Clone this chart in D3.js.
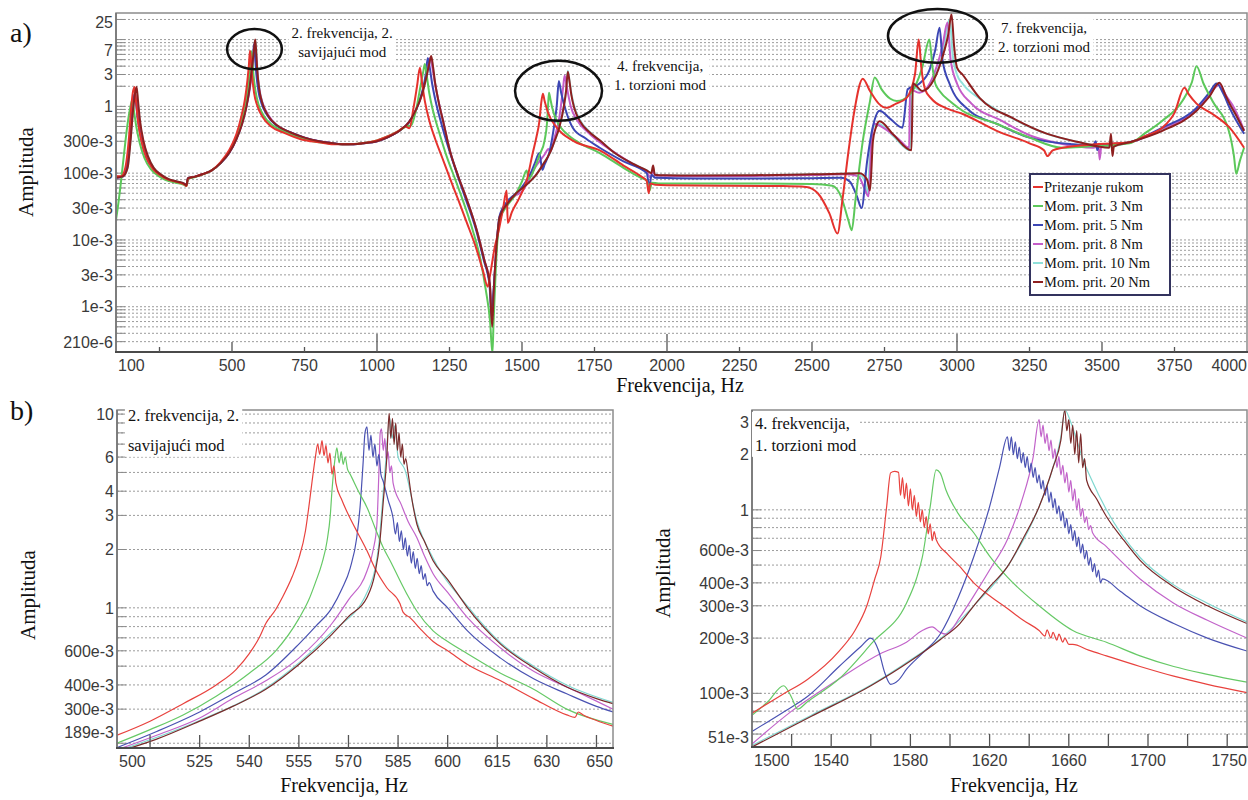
<!DOCTYPE html>
<html><head><meta charset="utf-8">
<script src="https://cdn.jsdelivr.net/npm/d3@7"></script>
<style>body{margin:0;background:#fff}</style>
</head><body>
<svg id="c" width="1248" height="800"></svg>
<script>
// ---- series ----
const seriesNames = ["Pritezanje rukom", "Mom. prit. 3 Nm", "Mom. prit. 5 Nm", "Mom. prit. 8 Nm", "Mom. prit. 10 Nm", "Mom. prit. 20 Nm"];
const seriesColors = ["#e5322d", "#5cc85a", "#3c46b4", "#c45cc8", "#8fe0da", "#8e1f1f"];
const seriesColorsZoom = ["#e8423e", "#66c966", "#4a52b2", "#c264ca", "#80d8d0", "#7a2a2a"];

// ---- a) full spectrum, [Hz, amplitude] ----
const aHand = [[100,0.09],[118,0.09],[132,0.12],[145,0.35],[152,0.9],[158,1.6],[164,1.95],[169,1.2],[176,0.6],[188,0.3],[205,0.17],[228,0.115],[255,0.092],[280,0.08],[310,0.074],[335,0.068],[343,0.064],[348,0.083],[370,0.088],[400,0.097],[430,0.11],[460,0.145],[490,0.22],[515,0.38],[532,0.7],[545,1.3],[553,2.4],[558,4.0],[562,6.8],[565,5.2],[569,3.0],[576,1.6],[588,1.0],[605,0.7],[635,0.5],[680,0.4],[740,0.32],[800,0.29],[850,0.27],[900,0.27],[950,0.28],[1000,0.31],[1040,0.36],[1075,0.43],[1098,0.5],[1112,0.47],[1125,0.9],[1138,2.0],[1148,3.8],[1155,2.3],[1165,1.2],[1180,0.62],[1200,0.33],[1225,0.17],[1251,0.085],[1280,0.04],[1310,0.018],[1340,0.008],[1365,0.0035],[1382,0.002],[1390,0.003],[1406,0.0078],[1420,0.014],[1435,0.03],[1447,0.055],[1451,0.018],[1465,0.026],[1490,0.042],[1517,0.08],[1537,0.2],[1550,0.35],[1560,0.6],[1566,1.1],[1572,1.55],[1578,1.2],[1590,0.8],[1620,0.48],[1680,0.3],[1768,0.22],[1850,0.13],[1910,0.09],[1930,0.077],[1937,0.05],[1942,0.07],[1960,0.067],[2000,0.066],[2200,0.065],[2400,0.064],[2480,0.062],[2520,0.05],[2560,0.025],[2588,0.0125],[2605,0.04],[2625,0.2],[2645,0.8],[2675,2.6],[2700,1.7],[2730,1.1],[2757,0.95],[2790,1.1],[2826,1.34],[2855,3.0],[2868,10],[2877,3.8],[2890,1.8],[2912,1.3],[2960,0.95],[3020,0.77],[3137,0.43],[3250,0.28],[3300,0.22],[3312,0.18],[3330,0.22],[3364,0.24],[3480,0.27],[3595,0.29],[3650,0.36],[3708,0.48],[3750,0.8],[3784,1.9],[3800,1.5],[3826,1.1],[3881,0.77],[3940,0.48],[3990,0.24]];
const a3 = [[100,0.02],[108,0.035],[118,0.08],[128,0.2],[140,0.55],[150,1.0],[156,1.25],[162,0.85],[170,0.5],[182,0.28],[198,0.17],[220,0.115],[245,0.092],[272,0.079],[305,0.072],[335,0.067],[343,0.064],[348,0.082],[370,0.087],[400,0.096],[430,0.11],[460,0.142],[490,0.21],[515,0.35],[535,0.65],[548,1.2],[557,2.3],[563,4.2],[567,6.7],[570,5.0],[574,3.0],[581,1.7],[592,1.05],[610,0.72],[640,0.52],[685,0.41],[740,0.33],[800,0.29],[850,0.275],[900,0.27],[950,0.28],[1000,0.31],[1040,0.36],[1075,0.43],[1100,0.5],[1118,0.52],[1135,0.9],[1150,2.0],[1160,3.4],[1165,4.3],[1171,3.0],[1180,1.6],[1195,0.8],[1215,0.4],[1240,0.18],[1270,0.08],[1300,0.035],[1330,0.014],[1355,0.0055],[1375,0.0018],[1390,0.0006],[1398,0.0002],[1402,0.0006],[1410,0.004],[1423,0.02],[1450,0.033],[1480,0.05],[1500,0.075],[1516,0.11],[1523,0.082],[1544,0.12],[1561,0.19],[1578,0.31],[1586,0.55],[1590,1.04],[1593,1.6],[1598,1.28],[1604,0.96],[1620,0.6],[1654,0.39],[1700,0.28],[1768,0.2],[1850,0.12],[1910,0.085],[1930,0.077],[1940,0.055],[1948,0.072],[1970,0.07],[2100,0.07],[2300,0.07],[2500,0.069],[2570,0.065],[2600,0.045],[2625,0.02],[2637,0.014],[2650,0.04],[2675,0.3],[2700,1.2],[2716,2.7],[2740,1.8],[2770,1.3],[2792,1.2],[2837,1.5],[2880,3.8],[2905,10],[2915,4],[2925,2.2],[2940,1.7],[2980,1.15],[3019,0.86],[3136,0.55],[3250,0.34],[3364,0.24],[3450,0.25],[3595,0.28],[3650,0.4],[3708,0.61],[3777,1.2],[3810,2.3],[3826,4.0],[3850,2.2],[3881,1.2],[3940,0.39],[3955,0.18],[3963,0.098],[3975,0.15],[3990,0.24]];
const a5 = [[100,0.085],[122,0.088],[135,0.12],[148,0.35],[156,0.9],[163,1.5],[168,1.2],[175,0.65],[187,0.32],[205,0.17],[230,0.115],[255,0.093],[280,0.08],[310,0.074],[335,0.069],[343,0.066],[348,0.084],[370,0.088],[400,0.097],[430,0.11],[460,0.14],[490,0.2],[515,0.33],[535,0.58],[550,1.05],[560,1.9],[568,3.6],[573,6.0],[576,8.6],[579,6.0],[584,3.0],[591,1.7],[602,1.1],[622,0.73],[652,0.52],[700,0.41],[750,0.34],[800,0.3],[850,0.28],[900,0.27],[950,0.28],[1000,0.3],[1040,0.35],[1080,0.44],[1110,0.57],[1135,0.9],[1155,1.6],[1168,3.0],[1175,5.3],[1181,4.0],[1190,2.2],[1202,1.2],[1222,0.55],[1245,0.25],[1275,0.1],[1305,0.042],[1340,0.015],[1368,0.005],[1388,0.0021],[1396,0.0006],[1401,0.0015],[1410,0.006],[1423,0.023],[1450,0.038],[1480,0.05],[1500,0.062],[1528,0.096],[1544,0.14],[1560,0.2],[1570,0.112],[1578,0.135],[1595,0.21],[1612,0.555],[1620,1.04],[1627,2.4],[1635,1.6],[1650,0.9],[1675,0.48],[1720,0.33],[1768,0.24],[1850,0.15],[1930,0.1],[1940,0.06],[1946,0.095],[1960,0.085],[2100,0.083],[2300,0.083],[2500,0.084],[2600,0.085],[2630,0.075],[2655,0.045],[2671,0.03],[2690,0.15],[2710,0.5],[2733,0.86],[2770,0.65],[2812,0.48],[2830,1.8],[2871,2.2],[2905,3.5],[2925,7],[2940,15],[2950,5],[2974,2.2],[3043,0.86],[3136,0.55],[3250,0.34],[3400,0.27],[3470,0.26],[3478,0.3],[3484,0.22],[3490,0.26],[3595,0.29],[3708,0.48],[3826,0.95],[3870,1.6],[3895,2.2],[3920,1.5],[3940,0.95],[3990,0.39]];
const a8 = [[100,0.085],[123,0.088],[137,0.12],[150,0.35],[158,0.9],[165,1.6],[170,1.2],[177,0.65],[189,0.32],[207,0.17],[232,0.115],[257,0.093],[282,0.08],[312,0.074],[336,0.069],[343,0.066],[348,0.084],[370,0.088],[400,0.097],[430,0.11],[460,0.14],[490,0.2],[515,0.32],[535,0.56],[550,1.0],[562,1.9],[570,3.6],[576,6.0],[580,8.4],[583,6.0],[588,3.0],[595,1.7],[606,1.1],[626,0.73],[655,0.52],[700,0.41],[750,0.34],[800,0.3],[850,0.28],[900,0.27],[950,0.28],[1000,0.3],[1040,0.35],[1080,0.44],[1110,0.58],[1135,0.9],[1155,1.55],[1170,2.9],[1179,5.0],[1185,5.3],[1191,3.8],[1200,2.2],[1212,1.2],[1230,0.55],[1251,0.22],[1280,0.09],[1310,0.04],[1344,0.014],[1370,0.005],[1389,0.0022],[1397,0.0007],[1402,0.0016],[1410,0.006],[1423,0.022],[1450,0.036],[1480,0.047],[1500,0.053],[1544,0.12],[1578,0.19],[1591,0.23],[1598,0.21],[1612,0.34],[1629,0.69],[1642,1.94],[1647,2.9],[1655,1.9],[1668,1.0],[1690,0.62],[1730,0.4],[1768,0.29],[1830,0.19],[1890,0.13],[1930,0.105],[1944,0.085],[1950,0.11],[1960,0.092],[2100,0.09],[2300,0.091],[2500,0.094],[2620,0.096],[2660,0.09],[2680,0.06],[2695,0.045],[2705,0.3],[2715,0.55],[2745,0.48],[2800,0.32],[2835,0.24],[2838,1.8],[2870,1.6],[2920,3],[2950,8],[2967,18],[2978,5],[3000,2.2],[3050,1.1],[3150,0.62],[3250,0.37],[3350,0.28],[3470,0.24],[3488,0.25],[3492,0.16],[3498,0.26],[3600,0.29],[3700,0.45],[3830,0.92],[3870,1.5],[3905,2.1],[3930,1.4],[3950,1.05],[3990,0.44]];
const a10 = [[100,0.086],[125,0.09],[140,0.12],[150,0.3],[158,0.8],[165,1.5],[170,1.9],[175,1.2],[182,0.6],[194,0.3],[210,0.18],[230,0.12],[255,0.095],[280,0.082],[310,0.075],[335,0.07],[343,0.066],[348,0.084],[370,0.088],[400,0.097],[430,0.11],[460,0.14],[490,0.2],[515,0.32],[535,0.55],[550,1.0],[560,1.8],[568,3.4],[575,6.3],[581,9.5],[584,6.8],[588,3.4],[595,1.8],[606,1.1],[626,0.72],[655,0.52],[700,0.41],[750,0.34],[800,0.3],[850,0.28],[900,0.27],[950,0.28],[1000,0.3],[1040,0.35],[1080,0.44],[1110,0.58],[1135,0.9],[1155,1.5],[1170,2.7],[1180,4.2],[1186,5.5],[1192,4.0],[1200,2.3],[1212,1.2],[1230,0.55],[1251,0.22],[1280,0.09],[1310,0.04],[1344,0.014],[1370,0.005],[1389,0.0022],[1397,0.0006],[1402,0.0015],[1410,0.006],[1423,0.022],[1450,0.035],[1480,0.05],[1517,0.068],[1545,0.09],[1575,0.14],[1595,0.196],[1612,0.3],[1629,0.49],[1645,1.04],[1652,1.7],[1658,3.4],[1664,2.4],[1671,1.5],[1680,1.0],[1700,0.62],[1730,0.43],[1768,0.31],[1820,0.2],[1880,0.14],[1930,0.11],[1946,0.1],[1952,0.12],[1958,0.095],[1990,0.093],[2100,0.092],[2300,0.093],[2500,0.096],[2600,0.098],[2655,0.1],[2680,0.08],[2692,0.05],[2702,0.3],[2712,0.5],[2730,0.55],[2780,0.36],[2838,0.22],[2843,2.0],[2880,1.7],[2920,2.6],[2950,6],[2975,20],[2985,6],[3000,3],[3019,2.2],[3078,1.3],[3191,0.66],[3309,0.39],[3422,0.29],[3520,0.25],[3595,0.29],[3708,0.44],[3826,0.88],[3870,1.45],[3900,2.2],[3925,1.5],[3940,1.1],[3965,0.7],[3990,0.43]];
const a20 = [[100,0.085],[125,0.09],[140,0.12],[150,0.3],[158,0.8],[165,1.5],[171,1.95],[176,1.2],[183,0.6],[195,0.3],[210,0.18],[230,0.12],[255,0.095],[280,0.082],[310,0.075],[335,0.07],[343,0.066],[348,0.084],[370,0.088],[400,0.097],[430,0.11],[460,0.14],[490,0.2],[515,0.32],[535,0.55],[550,1.0],[560,1.8],[568,3.5],[575,6.5],[580,10],[583,7],[587,3.5],[594,1.8],[605,1.1],[625,0.72],[655,0.52],[700,0.41],[750,0.34],[800,0.3],[850,0.28],[900,0.27],[950,0.28],[1000,0.3],[1040,0.35],[1080,0.44],[1110,0.58],[1135,0.9],[1155,1.5],[1170,2.7],[1180,4.3],[1187,5.7],[1193,4.0],[1200,2.3],[1212,1.2],[1230,0.55],[1251,0.22],[1280,0.09],[1310,0.04],[1344,0.014],[1370,0.005],[1389,0.0022],[1397,0.0005],[1402,0.0015],[1410,0.006],[1423,0.022],[1450,0.035],[1480,0.05],[1517,0.068],[1545,0.09],[1575,0.14],[1595,0.196],[1612,0.3],[1629,0.49],[1645,1.04],[1652,1.7],[1658,3.3],[1663,2.5],[1670,1.5],[1680,0.95],[1700,0.6],[1730,0.42],[1768,0.31],[1820,0.2],[1880,0.14],[1930,0.11],[1946,0.1],[1952,0.13],[1958,0.095],[1990,0.093],[2100,0.092],[2300,0.093],[2500,0.096],[2600,0.098],[2664,0.1],[2690,0.08],[2700,0.055],[2710,0.3],[2720,0.48],[2733,0.6],[2780,0.38],[2843,0.22],[2848,2.2],[2880,1.7],[2920,2.5],[2950,5.5],[2970,12],[2981,24],[2990,8],[3000,3.8],[3019,3.0],[3078,1.34],[3191,0.67],[3309,0.39],[3422,0.29],[3525,0.24],[3531,0.39],[3536,0.18],[3541,0.25],[3595,0.29],[3708,0.43],[3826,0.86],[3870,1.4],[3905,2.25],[3925,1.5],[3940,1.1],[3965,0.7],[3990,0.43]];

// ---- b) left: 2nd bending mode, [Hz, amplitude] ----
const bLHand = [[500,0.22],[510,0.26],[520,0.32],[530,0.4],[536,0.48],[540,0.58],[543,0.7],[545,0.83],[548,0.98],[550,1.13],[553,1.45],[555,1.8],[557,2.5],[558,3.3],[559,4.5],[560,6.0],[560.7,7.0],[561.3,6.2],[562,7.3],[562.6,6.1],[563.2,6.9],[563.8,5.6],[564.4,6.3],[565,4.9],[565.6,5.4],[566.2,4.4],[568,3.6],[570.5,2.9],[573,2.4],[575.6,1.97],[578,1.6],[581.6,1.27],[585.6,1.05],[586.5,0.95],[588.6,0.89],[592,0.77],[595.6,0.67],[600,0.6],[606,0.51],[616,0.42],[626,0.34],[636,0.28],[638.5,0.272],[639.5,0.29],[641,0.28],[645,0.262],[650,0.245]];
const bL3 = [[500,0.2],[510,0.235],[520,0.28],[530,0.35],[540,0.46],[548,0.6],[555,0.88],[558,1.1],[560,1.35],[562,1.7],[563.5,2.2],[564.5,3.0],[565,4.0],[566,6.0],[566.5,6.7],[567.2,5.6],[567.8,6.4],[568.4,5.5],[569,6.0],[569.7,5.2],[570.5,4.9],[573,4.0],[575.6,3.3],[578,2.6],[580.5,2.05],[583,1.7],[585.6,1.38],[588,1.15],[590.7,0.96],[595.6,0.76],[600,0.67],[606,0.58],[616,0.46],[626,0.38],[636,0.3],[650,0.25]];
const bL5 = [[500,0.19],[512,0.23],[525,0.29],[535,0.36],[545,0.45],[555,0.65],[560,0.8],[565,1.0],[568,1.25],[570.5,1.6],[572.5,2.3],[573.5,3.3],[574.4,5.5],[575,8],[575.6,8.6],[576.2,6.5],[576.8,7.8],[577.4,6.0],[578,7.0],[578.6,5.4],[579.2,6.2],[579.8,4.9],[580.5,4.5],[582,3.6],[583.5,2.9],[584.2,2.4],[584.8,2.75],[585.4,2.2],[586,2.5],[586.6,2.0],[587.2,2.3],[587.8,1.85],[588.4,2.1],[589,1.7],[589.6,1.95],[590.2,1.6],[590.8,1.8],[591.4,1.5],[592,1.65],[592.6,1.4],[593.2,1.5],[593.8,1.3],[594.4,1.35],[595.6,1.22],[600,1.0],[606,0.76],[616,0.55],[626,0.43],[636,0.36],[645,0.31],[650,0.29]];
const bL8 = [[500,0.185],[512,0.22],[525,0.27],[535,0.34],[545,0.42],[555,0.55],[565,0.83],[570,1.1],[575.6,1.55],[577.5,2.0],[578.6,2.7],[579.2,5.0],[579.6,8.0],[580,8.4],[580.5,6.5],[581,7.5],[581.5,5.8],[582,6.4],[582.5,5.0],[583,5.4],[583.5,4.4],[586,3.4],[588,2.8],[590.7,2.3],[593,1.85],[595.6,1.5],[600,1.2],[606,0.89],[616,0.62],[626,0.47],[636,0.39],[645,0.33],[650,0.3]];
const bL10 = [[500,0.182],[525,0.262],[545,0.385],[555,0.52],[565,0.75],[575.6,1.2],[579,2.0],[581.2,5.5],[582.5,9.5],[583.2,7.5],[584,8.7],[585,6.0],[587,5.2],[590.7,2.8],[595.6,1.8],[606,1.02],[616,0.66],[626,0.5],[636,0.4],[650,0.325]];
const bL20 = [[500,0.18],[512,0.21],[525,0.26],[535,0.31],[545,0.38],[555,0.51],[565,0.73],[570,0.9],[575.6,1.13],[578,1.5],[579.5,2.2],[580.5,3.5],[581.6,6],[582.3,10.1],[582.8,7.5],[583.3,9.5],[583.8,7.0],[584.3,9.0],[584.8,6.5],[585.3,8.0],[585.8,6.0],[586.3,7.0],[586.8,5.5],[587.3,5.9],[588,5.0],[589,3.8],[590.7,2.7],[593,2.2],[595.6,1.75],[600,1.4],[606,1.0],[616,0.65],[626,0.49],[636,0.39],[645,0.34],[650,0.32]];

// ---- b) right: 1st torsional mode, [Hz, amplitude] ----
const bRHand = [[1500,0.078],[1515,0.098],[1528,0.119],[1544,0.17],[1552,0.22],[1558,0.3],[1562,0.42],[1565,0.55],[1568,1.04],[1570,1.59],[1572,1.62],[1574,1.6],[1575,1.2],[1576,1.5],[1577,1.15],[1578,1.4],[1579,1.05],[1580,1.3],[1581,1.0],[1582,1.2],[1583,0.92],[1584,1.1],[1585,0.86],[1586,1.0],[1587,0.8],[1588,0.92],[1589,0.74],[1590,0.84],[1591,0.68],[1592,0.76],[1593,0.69],[1599,0.57],[1605,0.49],[1612,0.4],[1620,0.34],[1629,0.29],[1637,0.25],[1645,0.22],[1648,0.205],[1649,0.222],[1651,0.2],[1652,0.215],[1654,0.195],[1655,0.21],[1657,0.19],[1658,0.2],[1660,0.185],[1662,0.185],[1670,0.172],[1679,0.16],[1696,0.14],[1713,0.124],[1730,0.112],[1750,0.101]];
const bR3 = [[1500,0.076],[1508,0.09],[1516,0.11],[1520,0.095],[1523,0.082],[1528,0.09],[1544,0.12],[1561,0.19],[1578,0.31],[1583,0.42],[1586,0.55],[1590,1.04],[1593,1.65],[1595,1.59],[1598,1.28],[1604,0.96],[1612,0.75],[1620,0.56],[1629,0.43],[1645,0.3],[1662,0.22],[1679,0.19],[1696,0.16],[1713,0.14],[1730,0.127],[1750,0.115]];
const bR5 = [[1500,0.062],[1515,0.078],[1528,0.096],[1544,0.14],[1555,0.18],[1560,0.2],[1564,0.17],[1567,0.13],[1570,0.112],[1574,0.118],[1578,0.135],[1586,0.165],[1595,0.21],[1604,0.33],[1612,0.555],[1620,1.04],[1625,1.7],[1629,2.5],[1630,2.1],[1631,2.5],[1632,2.0],[1633,2.35],[1634,1.9],[1635,2.2],[1636,1.8],[1637,2.05],[1638,1.7],[1639,1.95],[1640,1.6],[1641,1.8],[1642,1.5],[1643,1.7],[1644,1.4],[1645,1.55],[1646,1.3],[1647,1.45],[1648,1.2],[1649,1.35],[1650,1.1],[1651,1.25],[1652,1.02],[1653,1.15],[1654,0.95],[1655,1.05],[1656,0.87],[1657,0.98],[1658,0.8],[1659,0.9],[1660,0.74],[1661,0.83],[1662,0.68],[1663,0.77],[1664,0.63],[1665,0.71],[1666,0.58],[1667,0.65],[1668,0.54],[1669,0.6],[1670,0.5],[1671,0.55],[1672,0.46],[1673,0.51],[1674,0.43],[1675,0.47],[1676,0.4],[1677,0.42],[1686,0.36],[1696,0.3],[1713,0.24],[1730,0.2],[1750,0.17]];
const bR8 = [[1500,0.053],[1520,0.08],[1544,0.12],[1565,0.165],[1578,0.19],[1586,0.22],[1591,0.23],[1595,0.215],[1598,0.21],[1605,0.26],[1612,0.34],[1620,0.47],[1629,0.69],[1636,1.1],[1642,1.94],[1645,3.1],[1646,2.5],[1647,2.9],[1648,2.3],[1649,2.6],[1650,2.1],[1651,2.4],[1652,1.9],[1653,2.15],[1654,1.7],[1655,1.95],[1656,1.55],[1657,1.75],[1658,1.4],[1659,1.6],[1660,1.25],[1661,1.45],[1662,1.12],[1663,1.3],[1664,1.0],[1665,1.15],[1666,0.92],[1667,1.02],[1668,0.85],[1669,0.92],[1670,0.78],[1671,0.82],[1672,0.75],[1679,0.63],[1696,0.42],[1713,0.31],[1730,0.25],[1750,0.2]];
const bR10 = [[1500,0.052],[1530,0.076],[1560,0.111],[1580,0.152],[1595,0.198],[1612,0.3],[1629,0.49],[1645,1.04],[1652,1.7],[1656,2.5],[1658,3.5],[1661,3.0],[1664,2.4],[1667,1.9],[1671,1.5],[1679,1.0],[1696,0.55],[1713,0.39],[1730,0.31],[1750,0.245]];
const bR20 = [[1500,0.051],[1530,0.075],[1560,0.11],[1580,0.15],[1595,0.196],[1605,0.24],[1612,0.3],[1620,0.38],[1629,0.49],[1637,0.7],[1645,1.04],[1652,1.7],[1656,2.4],[1658,3.5],[1659,2.7],[1660,3.1],[1661,2.3],[1662,2.9],[1663,2.0],[1664,2.7],[1665,1.8],[1666,2.6],[1667,1.7],[1668,1.9],[1669,1.45],[1674,1.15],[1679,0.92],[1687,0.7],[1696,0.53],[1713,0.38],[1730,0.3],[1750,0.24]];

// ---- axis ticks and labels ----
const aXTicks = [250,500,750,1000,1250,1500,1750,2000,2250,2500,2750,3000,3250,3500,3750];
const aXLabels = ["","500","750","1000","1250","1500","1750","2000","2250","2500","2750","3000","3250","3500","3750"];
const aXEnds = ["100","4000"];
const aYTicks = [25,7,3,1,0.3,0.1,0.03,0.01,0.003,0.001,0.00021];
const aYLabels = ["25","7","3","1","300e-3","100e-3","30e-3","10e-3","3e-3","1e-3","210e-6"];

const bLXTicks = [510,525,540,555,570,585,600,615,630,645];
const bLXLabels = ["","525","540","555","570","585","600","615","630",""];
const bLXEnds = ["500","650"];
const bLYTicks = [10,6,4,3,2,1,0.6,0.4,0.3,0.189];
const bLYLabels = ["10","6","4","3","2","1","600e-3","400e-3","300e-3","189e-3"];

const bRXTicks = [1520,1540,1560,1580,1600,1620,1640,1660,1680,1700,1720,1740];
const bRXLabels = ["","1540","","1580","","1620","","1660","","1700","",""];
const bRXEnds = ["1500","1750"];
const bRYTicks = [3,2,1,0.6,0.4,0.3,0.2,0.1,0.051];
const bRYLabels = ["3","2","1","600e-3","400e-3","300e-3","200e-3","100e-3","51e-3"];

const serif = "'Liberation Serif','Times New Roman',serif";
const sans = "'Liberation Sans',Arial,sans-serif";
const svg = d3.select("#c");

function drawPanel(cfg) {
  const x = d3.scaleLinear().domain(cfg.xDomain).range([cfg.left, cfg.right]);
  const y = d3.scaleLog().domain(cfg.yDomain).range([cfg.bottom, cfg.top]);
  const g = svg.append("g");
  const clipId = "clip-" + cfg.id;
  svg.append("clipPath").attr("id", clipId).append("rect")
    .attr("x", cfg.left).attr("y", cfg.top)
    .attr("width", cfg.right - cfg.left).attr("height", cfg.bottom - cfg.top);

  // dotted log gridlines with short solid marks at the left edge
  const grid = y.ticks().filter(v => v >= cfg.yDomain[0] * 0.999 && v <= cfg.yDomain[1] * 1.001);
  g.selectAll("line.grid").data(grid).join("line").attr("class", "grid")
    .attr("x1", cfg.left).attr("x2", cfg.right)
    .attr("y1", d => y(d)).attr("y2", d => y(d))
    .attr("stroke", "#9c9c9c").attr("stroke-width", 1).attr("stroke-dasharray", "2,2");
  g.selectAll("line.ymark").data(grid).join("line").attr("class", "ymark")
    .attr("x1", cfg.left).attr("x2", cfg.left + 9)
    .attr("y1", d => y(d)).attr("y2", d => y(d))
    .attr("stroke", "#8a8a8a").attr("stroke-width", 1);

  // curves
  const line = d3.line().curve(d3.curveMonotoneX).x(d => x(d[0])).y(d => y(d[1]));
  const cg = g.append("g").attr("clip-path", `url(#${clipId})`);
  cfg.order.forEach(i => {
    cg.append("path").datum(cfg.series[i])
      .attr("d", line).attr("fill", "none")
      .attr("stroke", cfg.colors[i]).attr("stroke-width", cfg.lineWidth)
      .attr("stroke-linejoin", "round");
  });

  // frame
  g.append("rect").attr("x", cfg.left).attr("y", cfg.top)
    .attr("width", cfg.right - cfg.left).attr("height", cfg.bottom - cfg.top)
    .attr("fill", "none").attr("stroke", "#8c8c8c").attr("stroke-width", 1.5);
  g.append("line").attr("x1", cfg.left).attr("x2", cfg.left).attr("y1", cfg.top).attr("y2", cfg.bottom)
    .attr("stroke", "#707070").attr("stroke-width", 1.5);
  g.append("line").attr("x1", cfg.left - 1).attr("x2", cfg.right + 1).attr("y1", cfg.bottom).attr("y2", cfg.bottom)
    .attr("stroke", "#4a4a4a").attr("stroke-width", 2.2);

  // x ticks (inward) and labels
  g.selectAll("line.xtick").data(cfg.xTicks).join("line").attr("class", "xtick")
    .attr("x1", d => x(d)).attr("x2", d => x(d))
    .attr("y1", cfg.bottom).attr("y2", d => cfg.bottom - cfg.tickLen(d))
    .attr("stroke", "#555").attr("stroke-width", 1.3);
  g.selectAll("text.xlab").data(cfg.xTicks).join("text").attr("class", "xlab")
    .attr("x", d => x(d)).attr("y", cfg.bottom + 19)
    .attr("text-anchor", "middle").attr("font-family", sans).attr("font-size", 16).attr("fill", "#3a3a3a")
    .text((d, i) => cfg.xLabels[i]);
  g.append("text").attr("x", cfg.left + 2).attr("y", cfg.bottom + 19)
    .attr("text-anchor", "start").attr("font-family", sans).attr("font-size", 16).attr("fill", "#3a3a3a")
    .text(cfg.xEnds[0]);
  g.append("text").attr("x", cfg.right).attr("y", cfg.bottom + 19)
    .attr("text-anchor", "end").attr("font-family", sans).attr("font-size", 16).attr("fill", "#3a3a3a")
    .text(cfg.xEnds[1]);

  // y labels
  g.selectAll("text.ylab").data(cfg.yTicks).join("text").attr("class", "ylab")
    .attr("x", cfg.left - 3)
    .attr("y", d => Math.min(Math.max(y(d), cfg.top + cfg.yClampTop), cfg.bottom - cfg.yClampBottom))
    .attr("dy", "0.36em")
    .attr("text-anchor", "end").attr("font-family", sans).attr("font-size", 16).attr("fill", "#3a3a3a")
    .text((d, i) => cfg.yLabels[i]);

  // axis titles
  g.append("text").attr("transform", `translate(${cfg.yTitleX},${cfg.yTitleY}) rotate(-90)`)
    .attr("text-anchor", "middle").attr("font-family", serif).attr("font-size", 21).attr("fill", "#111")
    .text("Amplituda");
  g.append("text").attr("x", cfg.xTitleX).attr("y", cfg.xTitleY)
    .attr("text-anchor", "middle").attr("font-family", serif).attr("font-size", 20).attr("fill", "#111")
    .text("Frekvencija, Hz");

  return {x, y, g};
}

// boxed two-line note
function note(g, cx, cy, lines, size, gap, anchor) {
  const ng = g.append("g");
  const bg = ng.append("rect").attr("fill", "#fff");
  lines.forEach((t, i) => {
    ng.append("text").attr("x", cx).attr("y", cy + i * gap).attr("dy", "0.35em")
      .attr("text-anchor", anchor).attr("font-family", serif).attr("font-size", size).attr("fill", "#111")
      .text(t);
  });
  const bb = ng.node().getBBox();
  bg.attr("x", bb.x - 3).attr("y", bb.y - 2).attr("width", bb.width + 6).attr("height", bb.height + 4);
}

const order = [4, 3, 2, 1, 0, 5];

// ---- panel a ----
const pa = drawPanel({
  id: "a", left: 116, right: 1247, top: 13, bottom: 352,
  xDomain: [100, 4000], yDomain: [0.00021, 25],
  series: [aHand, a3, a5, a8, a10, a20], colors: seriesColors, order, lineWidth: 2,
  xTicks: aXTicks, xLabels: aXLabels, xEnds: aXEnds,
  tickLen: d => d % 1000 === 0 ? 18 : (d % 500 === 0 ? 10 : 5),
  yTicks: aYTicks, yLabels: aYLabels, yClampTop: 9, yClampBottom: 10,
  yTitleX: 33, yTitleY: 172, xTitleX: 680, xTitleY: 392
});

// annotations: ellipse extents given in data units [f0, f1, A0, A1]
const aEllipses = [[483, 672, 3.6, 14.4], [1476, 1776, 0.61, 4.8], [2762, 3103, 4.5, 28.6]];
const aNotes = [
  {f: 880, A: 12.5, lines: ["2. frekvencija, 2.", "savijajući mod"]},
  {f: 1976, A: 4.0, lines: ["4. frekvencija,", "1. torzioni mod"]},
  {f: 3300, A: 14.9, lines: ["7. frekvencija,", "2. torzioni mod"]}
];
aNotes.forEach(n => note(pa.g, pa.x(n.f), pa.y(n.A), n.lines, 15, 19, "middle"));
pa.g.selectAll("ellipse").data(aEllipses).join("ellipse")
  .attr("cx", d => (pa.x(d[0]) + pa.x(d[1])) / 2)
  .attr("cy", d => (pa.y(d[2]) + pa.y(d[3])) / 2)
  .attr("rx", d => (pa.x(d[1]) - pa.x(d[0])) / 2)
  .attr("ry", d => (pa.y(d[2]) - pa.y(d[3])) / 2)
  .attr("fill", "none").attr("stroke", "#111").attr("stroke-width", 2.5);

// legend
const lg = pa.g.append("g").attr("transform", "translate(1030,174)");
lg.append("rect").attr("width", 140).attr("height", 121).attr("fill", "#fff")
  .attr("stroke", "#33335e").attr("stroke-width", 2);
seriesNames.forEach((n, i) => {
  const yy = 13 + i * 19;
  lg.append("line").attr("x1", 3).attr("x2", 13).attr("y1", yy).attr("y2", yy)
    .attr("stroke", seriesColors[i]).attr("stroke-width", 2);
  lg.append("text").attr("x", 14).attr("y", yy).attr("dy", "0.35em")
    .attr("font-family", serif).attr("font-size", 14.5).attr("fill", "#111").text(n);
});

// ---- panel b left ----
const pbl = drawPanel({
  id: "bl", left: 117, right: 613, top: 410, bottom: 748,
  xDomain: [500, 650], yDomain: [0.189, 10.5],
  series: [bLHand, bL3, bL5, bL8, bL10, bL20], colors: seriesColorsZoom, order, lineWidth: 1.2,
  xTicks: bLXTicks, xLabels: bLXLabels, xEnds: bLXEnds, tickLen: () => 13,
  yTicks: bLYTicks, yLabels: bLYLabels, yClampTop: 4, yClampBottom: 16,
  yTitleX: 35, yTitleY: 595, xTitleX: 344, xTitleY: 792
});
note(pbl.g, pbl.x(503.3), pbl.y(9.9), ["2. frekvencija, 2.", " savijajući  mod"], 16.5, 30, "start");

// ---- panel b right ----
const pbr = drawPanel({
  id: "br", left: 752, right: 1247, top: 410, bottom: 747,
  xDomain: [1500, 1750], yDomain: [0.051, 3.5],
  series: [bRHand, bR3, bR5, bR8, bR10, bR20], colors: seriesColorsZoom, order, lineWidth: 1.2,
  xTicks: bRXTicks, xLabels: bRXLabels, xEnds: bRXEnds, tickLen: () => 13,
  yTicks: bRYTicks, yLabels: bRYLabels, yClampTop: 4, yClampBottom: 10,
  yTitleX: 670, yTitleY: 573, xTitleX: 1014, xTitleY: 792
});
note(pbr.g, pbr.x(1501.5), pbr.y(2.97), ["4. frekvencija,", "1. torzioni  mod"], 16.5, 22, "start");

// panel letters
svg.append("text").attr("x", 10).attr("y", 42).attr("font-family", serif).attr("font-size", 28).attr("fill", "#111").text("a)");
svg.append("text").attr("x", 10).attr("y", 420).attr("font-family", serif).attr("font-size", 28).attr("fill", "#111").text("b)");
</script>
</body></html>
